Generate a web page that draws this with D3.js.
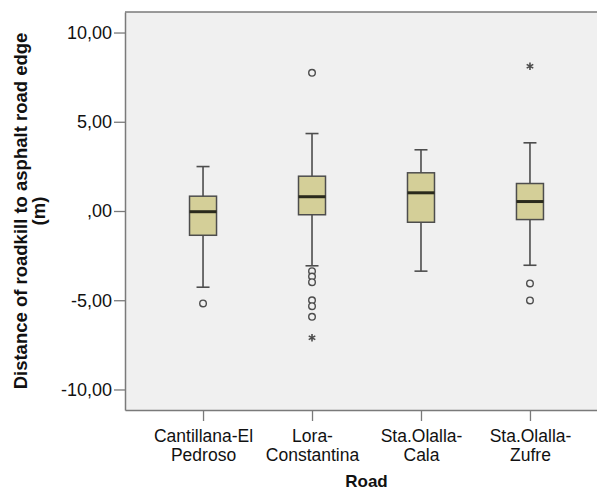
<!DOCTYPE html>
<html>
<head>
<meta charset="utf-8">
<script src="https://cdn.jsdelivr.net/npm/d3@7"></script>
<style>
body { margin: 0; background: #fff; }
text { font-family: "Liberation Sans", Arial, sans-serif; }
</style>
</head>
<body>
<div id="chart"></div>
<script>
// data
var roads = ["Cantillana-El Pedroso", "Lora-Constantina", "Sta.Olalla-Cala", "Sta.Olalla-Zufre"];
var roadLabels = [["Cantillana-El", "Pedroso"], ["Lora-", "Constantina"], ["Sta.Olalla-", "Cala"], ["Sta.Olalla-", "Zufre"]];
var q1 = [-1.36, -0.21, -0.63, -0.48];
var medians = [-0.04, 0.80, 1.02, 0.53];
var q3 = [0.83, 1.95, 2.14, 1.54];
var whiskerLow = [-4.27, -3.07, -3.37, -3.04];
var whiskerHigh = [2.49, 4.34, 3.43, 3.82];
var outliers = [[-5.18], [7.74, -3.37, -3.67, -3.99, -5.00, -5.33, -5.93], [], [-4.06, -5.01]];
var extremes = [[], [-7.10], [], [8.11]];
var yTicks = [-10, -5, 0, 5, 10];
var yTickLabels = ["-10,00", "-5,00", ",00", "5,00", "10,00"];

var margin = { top: 12, left: 125 },
    width = 483,
    height = 398;

var svg = d3.select("#chart")
    .append("svg")
    .attr("width", 597)
    .attr("height", 490);

var g = svg.append("g")
    .attr("transform", "translate(" + margin.left + "," + margin.top + ")");

var x = d3.scalePoint()
    .domain(roads)
    .range([0, width])
    .padding(0.716);

var y = d3.scaleLinear()
    .domain([-11.15, 11.15])
    .range([height, 0]);

// plot background
g.append("rect")
    .attr("width", width)
    .attr("height", height)
    .attr("fill", "#f0f0f0");

g.append("line")
    .attr("x1", 0).attr("x2", width)
    .attr("y1", 0).attr("y2", 0)
    .attr("stroke", "#7a7a7a")
    .attr("stroke-width", 1.5);

// axes
var yAxis = g.append("g")
    .call(d3.axisLeft(y).tickValues(yTicks).tickSize(11).tickSizeOuter(0).tickPadding(2)
        .tickFormat(function (d) { return yTickLabels[yTicks.indexOf(d)]; }));

var xAxis = g.append("g")
    .attr("transform", "translate(0," + height + ")")
    .call(d3.axisBottom(x).tickSize(11).tickSizeOuter(0).tickFormat(""));

[yAxis, xAxis].forEach(function (ax) {
    ax.select(".domain").attr("stroke", "#7a7a7a").attr("stroke-width", 1.5);
    ax.selectAll(".tick line").attr("stroke", "#7a7a7a").attr("stroke-width", 1.3);
});
yAxis.selectAll(".tick text")
    .style("font-size", "18px")
    .attr("fill", "#111");
xAxis.selectAll(".tick text").remove();

// two-line category labels
xAxis.selectAll(".tick").each(function (d, i) {
    var tick = d3.select(this);
    roadLabels[i].forEach(function (line, k) {
        tick.append("text")
            .attr("fill", "#111")
            .attr("text-anchor", "middle")
            .attr("y", 32 + k * 19)
            .style("font-size", "17.5px")
            .text(line);
    });
});

// boxes
var boxW = 27, capW = 13;
var groups = g.selectAll(".box")
    .data(roads)
    .enter()
    .append("g")
    .attr("class", "box")
    .attr("transform", function (d) { return "translate(" + x(d) + ",0)"; });

groups.append("line")
    .attr("y1", function (d, i) { return y(whiskerHigh[i]); })
    .attr("y2", function (d, i) { return y(whiskerLow[i]); })
    .attr("stroke", "#4d4d4d")
    .attr("stroke-width", 1.6);

groups.selectAll(".cap")
    .data(function (d, i) { return [whiskerLow[i], whiskerHigh[i]]; })
    .enter()
    .append("line")
    .attr("x1", -capW / 2).attr("x2", capW / 2)
    .attr("y1", function (v) { return y(v); })
    .attr("y2", function (v) { return y(v); })
    .attr("stroke", "#4d4d4d")
    .attr("stroke-width", 1.6);

groups.append("rect")
    .attr("x", -boxW / 2)
    .attr("width", boxW)
    .attr("y", function (d, i) { return y(q3[i]); })
    .attr("height", function (d, i) { return y(q1[i]) - y(q3[i]); })
    .attr("fill", "#d4cf98")
    .attr("stroke", "#4d4d4d")
    .attr("stroke-width", 1.5);

groups.append("line")
    .attr("x1", -boxW / 2).attr("x2", boxW / 2)
    .attr("y1", function (d, i) { return y(medians[i]); })
    .attr("y2", function (d, i) { return y(medians[i]); })
    .attr("stroke", "#2a2a1c")
    .attr("stroke-width", 3);

groups.selectAll(".outlier")
    .data(function (d, i) { return outliers[i]; })
    .enter()
    .append("circle")
    .attr("class", "outlier")
    .attr("cy", function (v) { return y(v); })
    .attr("r", 3.3)
    .attr("fill", "#f0f0f0")
    .attr("stroke", "#4d4d4d")
    .attr("stroke-width", 1.4);

groups.selectAll(".extreme")
    .data(function (d, i) { return extremes[i]; })
    .enter()
    .append("path")
    .attr("class", "extreme")
    .attr("transform", function (v) { return "translate(0," + y(v) + ")"; })
    .attr("d", d3.symbol(d3.symbolAsterisk, 40))
    .attr("stroke", "#4d4d4d")
    .attr("stroke-width", 1.6)
    .attr("fill", "none");

// axis titles
svg.append("text")
    .attr("x", margin.left + x(roads[1]) + (x(roads[2]) - x(roads[1])) / 2)
    .attr("y", 487)
    .attr("text-anchor", "middle")
    .style("font-size", "17px")
    .style("font-weight", "bold")
    .attr("fill", "#111")
    .text("Road");

var yTitle = svg.append("text")
    .attr("transform", "translate(27," + (margin.top + height / 2) + ") rotate(-90)")
    .attr("text-anchor", "middle")
    .style("font-size", "18.5px")
    .style("font-weight", "bold")
    .attr("fill", "#111");
yTitle.append("tspan").attr("x", 0).attr("y", 0).text("Distance of roadkill to asphalt road edge");
yTitle.append("tspan").attr("x", 0).attr("y", 18).text("(m)");
</script>
</body>
</html>
